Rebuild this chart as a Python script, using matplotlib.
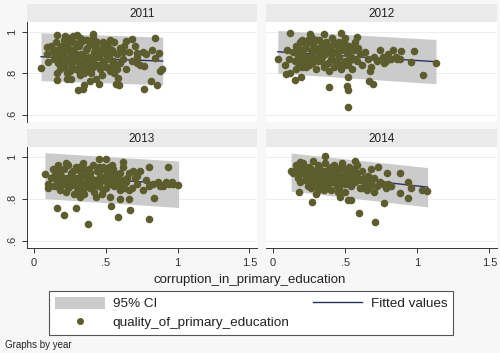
import numpy as np
import matplotlib
matplotlib.use("Agg")
import matplotlib.pyplot as plt
from matplotlib.patches import Patch
from matplotlib.lines import Line2D

plt.rcParams['font.family'] = ['Liberation Sans', 'DejaVu Sans']

years = ['2011', '2012', '2013', '2014']

# (x, y) points, per year
pts_2011 = [
    (.049, .825), (.09, .925), (.088, .893), (.095, .856), (.162, .768), (.158, .984), (.303, .72), (.342, .724),
    (.345, .742), (.389, .76), (.435, .773), (.45, .75), (.41, .989), (.30, .985), (.27, .98), (.574, .749),
    (.59, .745), (.585, .777), (.685, .965), (.64, .955), (.764, .724), (.817, .764), (.856, .744), (.84, .97),
    (.87, .898), (.875, .812), (.89, .82), (.842, .873), (.82, .91), (.78, .89), (.768, .833), (.72, .85),
    (.72, .895), (.227, .773), (.26, .773), (.215, .98),
    (.12, .93), (.13, .90), (.14, .87), (.15, .95), (.16, .91), (.17, .85), (.18, .82), (.19, .93), (.20, .89),
    (.21, .96), (.22, .86), (.23, .80), (.24, .92), (.25, .88), (.26, .84), (.27, .95), (.28, .90), (.29, .82),
    (.30, .87), (.31, .93), (.32, .79), (.33, .89), (.34, .85), (.35, .96), (.36, .91), (.37, .83), (.38, .88),
    (.39, .94), (.40, .80), (.41, .86), (.42, .90), (.43, .84), (.44, .95), (.45, .88), (.46, .82), (.47, .92),
    (.48, .86), (.49, .90), (.50, .83), (.51, .94), (.52, .88), (.53, .81), (.54, .91), (.55, .86), (.56, .95),
    (.57, .84), (.58, .89), (.60, .92), (.62, .87), (.64, .82), (.66, .90), (.68, .86), (.70, .93), (.72, .88),
    (.74, .84), (.76, .90),
    (.15, .88), (.18, .90), (.22, .92), (.25, .81), (.28, .86), (.30, .94), (.33, .83), (.36, .87), (.39, .81),
    (.42, .93), (.45, .84), (.48, .95), (.51, .87), (.54, .84), (.20, .84), (.26, .91), (.32, .97), (.38, .85),
    (.44, .91), (.50, .89), (.35, .80), (.41, .97), (.47, .79), (.56, .80), (.60, .85), (.63, .93), (.16, .80),
    (.24, .97), (.29, .89), (.43, .88),
    (.17, .89), (.19, .86), (.21, .83), (.23, .94), (.25, .90), (.27, .87), (.29, .93), (.31, .85), (.33, .95),
    (.35, .88), (.37, .92), (.39, .87), (.41, .83), (.43, .92), (.46, .90), (.49, .86), (.52, .92), (.55, .90),
    (.58, .82), (.62, .90), (.14, .91), (.31, .81), (.37, .96), (.53, .96),
]
pts_2012 = [
    (.033, .869), (.09, .797), (.153, .769), (.195, .78), (.118, .992), (.389, .732), (.519, .636), (.51, .74),
    (.52, .72), (.52, .78), (.662, .76), (.69, .75), (.67, .81), (1.037, .793), (1.13, .85), (.96, .852),
    (.974, .905), (.89, .905), (.86, .87), (.83, .91), (.77, .85), (.58, .973), (.47, .992), (.35, .99),
    (.255, .99), (.08, .84), (.10, .91), (.12, .80), (.11, .87),
    (.14, .90), (.15, .86), (.16, .93), (.17, .88), (.18, .84), (.19, .95), (.20, .90), (.21, .86), (.22, .92),
    (.23, .83), (.24, .96), (.25, .88), (.26, .91), (.27, .85), (.28, .94), (.29, .87), (.30, .82), (.31, .90),
    (.32, .96), (.33, .86), (.34, .92), (.35, .83), (.36, .89), (.37, .95), (.38, .85), (.39, .91), (.40, .87),
    (.41, .97), (.42, .83), (.43, .90), (.44, .86), (.45, .93), (.46, .88), (.47, .82), (.48, .91), (.49, .95),
    (.50, .86), (.51, .90), (.52, .84), (.53, .93), (.54, .88), (.55, .82), (.56, .91), (.58, .86), (.60, .89),
    (.62, .84), (.64, .90), (.66, .87), (.68, .83), (.70, .88), (.72, .86), (.74, .91), (.76, .88), (.78, .86),
    (.80, .89), (.82, .87), (.85, .88), (.88, .87),
    (.18, .91), (.20, .83), (.22, .88), (.25, .84), (.28, .90), (.31, .86), (.34, .88), (.37, .90), (.40, .93),
    (.43, .86), (.46, .95), (.49, .84), (.52, .89), (.55, .92), (.27, .97), (.33, .93), (.39, .81), (.45, .85),
    (.50, .97), (.57, .95), (.16, .82), (.24, .86), (.36, .84), (.42, .95),
    (.17, .92), (.19, .87), (.21, .89), (.23, .94), (.26, .87), (.29, .92), (.32, .88), (.35, .94), (.38, .92),
    (.41, .89), (.44, .90), (.47, .93), (.50, .92), (.53, .86), (.56, .87), (.59, .92), (.30, .96), (.20, .96),
    (.44, .84),
]
pts_2013 = [
    (.076, .916), (.157, .754), (.208, .721), (.292, .757), (.377, .678), (.539, .763), (.586, .713), (.667, .745),
    (.803, .702), (.835, .805), (.66, .80), (1.0, .866), (.933, .952), (.90, .86), (.96, .88), (.50, .99),
    (.45, .99), (.62, .975), (.10, .87), (.10, .85), (.157, .86), (.32, .807), (.43, .81), (.60, .80), (.80, .95),
    (.97, .87),
    (.12, .90), (.13, .94), (.14, .86), (.15, .92), (.16, .88), (.17, .96), (.18, .84), (.19, .91), (.20, .87),
    (.21, .94), (.22, .83), (.23, .90), (.24, .96), (.25, .86), (.26, .92), (.27, .88), (.28, .82), (.29, .95),
    (.30, .90), (.31, .85), (.32, .93), (.33, .87), (.34, .97), (.35, .82), (.36, .91), (.37, .88), (.38, .94),
    (.39, .85), (.40, .90), (.41, .96), (.42, .83), (.43, .88), (.44, .93), (.45, .86), (.46, .91), (.47, .82),
    (.48, .95), (.49, .89), (.50, .85), (.51, .92), (.52, .87), (.53, .81), (.54, .90), (.55, .94), (.56, .86),
    (.58, .91), (.60, .84), (.62, .95), (.64, .88), (.66, .92), (.68, .85), (.70, .90), (.72, .87), (.74, .93),
    (.76, .84), (.78, .89), (.80, .86), (.83, .87), (.86, .88), (.88, .86), (.92, .88), (.94, .87),
    (.18, .93), (.21, .88), (.24, .85), (.27, .93), (.30, .83), (.33, .91), (.36, .86), (.39, .92), (.42, .89),
    (.45, .95), (.48, .84), (.51, .88), (.54, .96), (.57, .89), (.60, .92), (.63, .85), (.22, .97), (.28, .90),
    (.34, .84), (.40, .86), (.46, .88), (.52, .95), (.66, .84),
    (.14, .91), (.17, .89), (.20, .90), (.23, .87), (.26, .89), (.29, .86), (.32, .89), (.35, .94), (.38, .89),
    (.41, .86), (.44, .89), (.47, .94), (.50, .91), (.53, .89), (.56, .92), (.59, .87), (.62, .89), (.65, .90),
    (.69, .93), (.72, .91), (.31, .95),
]
pts_2014 = [
    (.125, .932), (.18, .831), (.273, .786), (.361, 1.005), (.19, .975), (.465, .81), (.52, .795), (.54, .795),
    (.593, .731), (.708, .691), (.766, .778), (.877, .826), (.937, .803), (.96, .85), (.877, .924), (.935, .88),
    (1.033, .839), (1.066, .835), (.79, .924), (.73, .95), (.68, .94), (.65, .84), (.62, .85), (.35, .84),
    (.31, .84), (.14, .92), (.57, .98), (.50, .83), (.45, .83), (.70, .83),
    (.15, .93), (.16, .96), (.17, .90), (.18, .94), (.19, .88), (.20, .92), (.21, .97), (.22, .89), (.23, .93),
    (.24, .86), (.25, .95), (.26, .91), (.27, .88), (.28, .98), (.29, .93), (.30, .87), (.31, .91), (.32, .95),
    (.33, .89), (.34, .86), (.35, .93), (.36, .97), (.37, .90), (.38, .87), (.39, .94), (.40, .91), (.41, .88),
    (.42, .96), (.43, .92), (.44, .86), (.45, .90), (.46, .94), (.47, .88), (.48, .97), (.49, .91), (.50, .87),
    (.51, .93), (.52, .89), (.53, .95), (.54, .86), (.55, .91), (.56, .94), (.57, .88), (.58, .92), (.60, .89),
    (.62, .93), (.64, .87), (.66, .91), (.68, .88), (.70, .90), (.72, .86), (.74, .88), (.76, .87), (.78, .85),
    (.80, .87), (.82, .86),
    (.19, .95), (.22, .92), (.25, .89), (.28, .93), (.31, .96), (.34, .90), (.37, .85), (.40, .95), (.43, .89),
    (.46, .85), (.49, .94), (.52, .92), (.55, .88), (.58, .96), (.33, .92), (.41, .93), (.47, .91), (.53, .87),
    (.26, .85), (.30, .82), (.40, .84), (.60, .85),
    (.17, .93), (.20, .95), (.23, .90), (.26, .94), (.29, .90), (.32, .92), (.35, .90), (.38, .92), (.41, .91),
    (.44, .94), (.47, .95), (.50, .90), (.53, .92), (.56, .91), (.59, .90), (.63, .90), (.67, .86), (.24, .91),
    (.36, .88),
]
points = [pts_2011, pts_2012, pts_2013, pts_2014]

# fitted line and 95% CI band ends: x range, fit, upper, lower
ci_x = [(.049, .896), (.033, 1.13), (.076, 1.007), (.125, 1.072)]
fit_y = [(.879, .858), (.903, .855), (.910, .869), (.927, .855)]
ci_up = [(.994, .973), (1.005, .962), (1.019, .979), (1.017, .948)]
ci_lo = [(.764, .744), (.800, .749), (.800, .758), (.836, .761)]

yticks = [.6, .8, 1]
ytick_labels = ['.6', '.8', '1']
xticks = [0, .5, 1, 1.5]
xtick_labels = ['0', '.5', '1', '1.5']

dot_color = '#5d5c2c'
line_color = '#2c2f62'
band_color = '#cbcbcb'
strip_color = '#eaeaea'
W, H = 500, 353


def px_rect(left, top, w, h):
    return [left / W, 1 - (top + h) / H, w / W, h / H]


fig = plt.figure(figsize=(5, 3.53), dpi=100)
fig.patch.set_facecolor('#f7f7f7')

panel_px = [(27, 22, 230, 100), (266, 22, 231, 100), (27, 147, 230, 101), (266, 147, 231, 101)]
strip_px = [(27, 4, 230, 18), (266, 4, 231, 18), (27, 129, 230, 18), (266, 129, 231, 18)]

for i in range(4):
    ax = fig.add_axes(px_rect(*panel_px[i]))
    ax.set_facecolor('white')
    ax.set_xlim(-0.049, 1.553)
    ax.set_ylim(0.565, 1.046)
    for yv in yticks:
        ax.axhline(yv, color='#eeeeee', lw=0.8, zorder=0)
    xs = np.array(ci_x[i])
    ax.fill_between(xs, ci_lo[i], ci_up[i], color=band_color, lw=0, zorder=1)
    ax.plot(xs, fit_y[i], color=line_color, lw=1.0, zorder=2)
    px = [p[0] for p in points[i]]
    py = [p[1] for p in points[i]]
    ax.scatter(px, py, s=30, color=dot_color, lw=0, zorder=3)

    for s in ax.spines.values():
        s.set_visible(False)
    ax.tick_params(colors='#333333', length=3.5, width=0.7, labelsize=8)
    left_col = i in (0, 2)
    bottom_row = i in (2, 3)
    if left_col:
        ax.spines['left'].set_visible(True)
        ax.spines['left'].set_color('#333333')
        ax.spines['left'].set_linewidth(0.7)
        ax.set_yticks(yticks)
        ax.set_yticklabels(ytick_labels, rotation=90, va='center')
    else:
        ax.set_yticks([])
    if bottom_row:
        ax.spines['bottom'].set_visible(True)
        ax.spines['bottom'].set_color('#333333')
        ax.spines['bottom'].set_linewidth(0.7)
        ax.set_xticks(xticks)
        ax.set_xticklabels(xtick_labels)
    else:
        ax.set_xticks([])

    sax = fig.add_axes(px_rect(*strip_px[i]))
    sax.set_facecolor(strip_color)
    sax.set_xticks([])
    sax.set_yticks([])
    for s in sax.spines.values():
        s.set_visible(False)
    sax.text(0.5, 0.45, years[i], ha='center', va='center', fontsize=8.5, color='#222222',
             transform=sax.transAxes)

fig.text(250 / W, 1 - 280 / H, 'corruption_in_primary_education', ha='center', va='center',
         fontsize=9.5, color='#222222')

handles = [Patch(facecolor=band_color, edgecolor='none'),
           Line2D([], [], marker='o', ls='none', color=dot_color, markersize=4),
           Line2D([], [], color=line_color, lw=1.0)]
labels = ['95% CI', 'quality_of_primary_education', 'Fitted values']
leg = fig.legend(handles, labels, ncol=2, loc='center', bbox_to_anchor=(251 / W, 1 - 313 / H),
                 fontsize=9.7, handlelength=3.7, handleheight=1.0, handletextpad=0.6,
                 columnspacing=1.7, labelspacing=0.4, borderpad=0.4, fancybox=False,
                 framealpha=1, edgecolor='#555555')
leg.get_frame().set_linewidth(0.8)
for t in leg.get_texts():
    t.set_color('#222222')

fig.text(5 / W, 1 - 345 / H, 'Graphs by year', ha='left', va='center', fontsize=7, color='#222222')

fig.savefig('out.png', dpi=100, facecolor=fig.get_facecolor())
